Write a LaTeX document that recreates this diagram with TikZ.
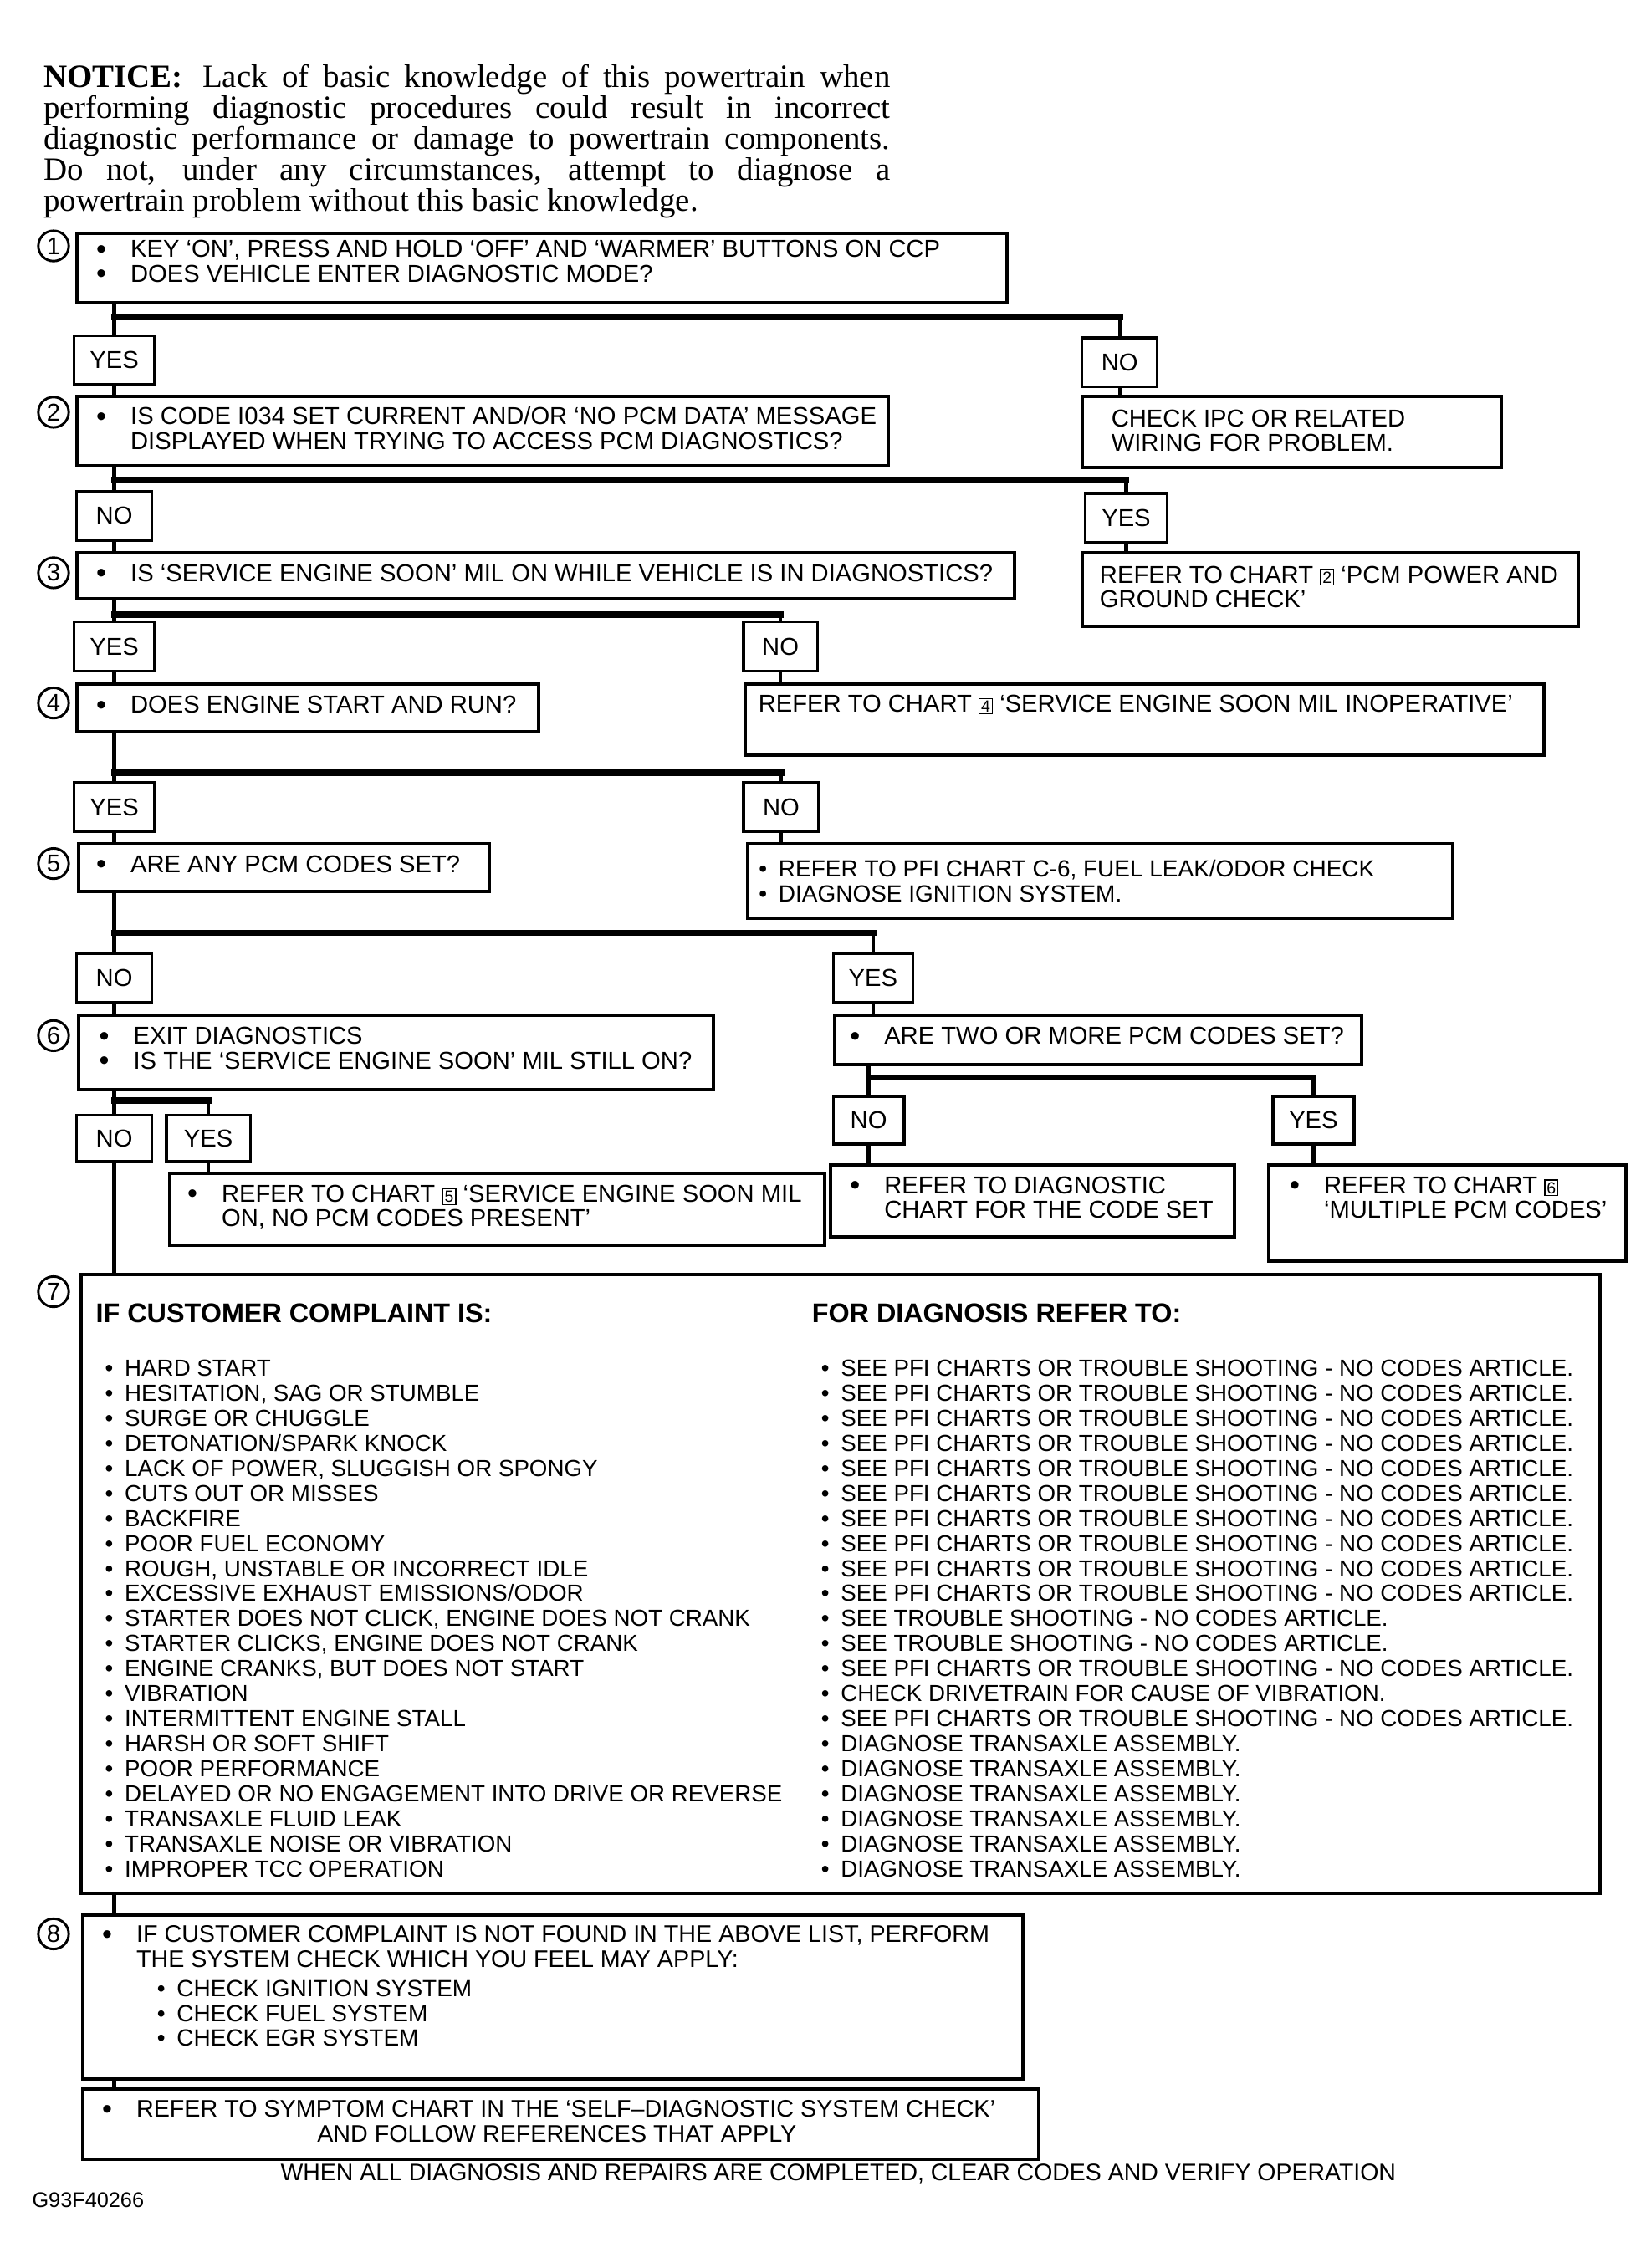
\documentclass[tikz,border=0pt]{standalone}
\usepackage{fontspec}
\setmainfont{Liberation Sans}
\newfontfamily\notefont{Liberation Serif}
\usetikzlibrary{calc}

\def\pxu{0.025cm}
\newcommand\bl[1][0.42cm]{\llap{\raisebox{-0.6pt}{\fontsize{14}{12}\selectfont\textbullet}\hspace{#1}}}
\newcommand\sbl[1][0.2cm]{\llap{\textbullet\hspace{#1}}}
\newcommand\chartno[1]{{\fboxsep=0.8pt\fboxrule=0.5pt\fbox{\fontsize{8}{8}\selectfont #1}}}

\tikzset{
  box/.style={draw, line width=1.6pt, anchor=north west, inner sep=0pt},
  ans/.style={draw, line width=1.4pt, inner sep=0pt, font=\fontsize{12}{12}\selectfont},
  txt/.style={anchor=north west, inner sep=0pt, align=left, font=\fontsize{12}{12.1}\selectfont},
  link/.style={line width=1.8pt},
  bar/.style={line width=3.2pt, line cap=rect},
  stepno/.style={circle, draw, line width=1.2pt, minimum size=21*\pxu, inner sep=0pt, font=\fontsize{12}{12}\selectfont},
}

\begin{document}
\begin{tikzpicture}[x=0.025cm, y=-0.025cm]
\fill[white] (0,0) rectangle (1141,1568);
\useasboundingbox (0,0) rectangle (1141,1568);

% notice
\node[anchor=north west, inner sep=0pt, text width=14.625cm, align=justify,
  font=\notefont\fontsize{16}{15.3}\selectfont] (note) at (30,44)
  {\textbf{NOTICE:}\hspace{0.6em}Lack of basic knowledge of this powertrain when\linebreak
   performing diagnostic procedures could result in incorrect\linebreak
   diagnostic performance or damage to powertrain components.\linebreak
   Do not, under any circumstances, attempt to diagnose a\linebreak
   powertrain problem without this basic knowledge.};

% boxes
\foreach \nm/\x/\y/\w/\h in {b1/52/160/643/48, b2/52/273/561/48, ipc/747/273/290/49,
  b3/52/381/648/32, chk2/747/381/343/51, b4/52/472/319/33, chk4/514/472/552/49,
  b5/53/582/284/33, pfi/516/582/487/52, b6/53/701/439/51, two/576/701/364/34,
  chk5/116/810/453/50, diag/573/804/279/50, chk6/876/804/247/67,
  b7/55/880/1050/428, b8/56/1323/650/113, b9/56/1443/661/49}
  \node[box, minimum width=\w*\pxu, minimum height=\h*\pxu] (\nm) at (\x,\y) {};

% yes / no
\foreach \nm/\t/\x/\y/\w/\h in {y1/YES/79/249/56/34, n1/NO/774/250.5/52/34,
  n2/NO/79/356.5/52/34, y2/YES/778.5/358/57/34, y3/YES/79/447/56/34, n3/NO/539.5/447/51/34,
  y4/YES/79/558/56/34, n4/NO/540/558/52/34, n5/NO/79/676/52/34, y5/YES/603.5/676/55/34,
  n6/NO/79/787/52/32, y6/YES/144/787/58/32, n7/NO/600.5/774.5/49/33, y7/YES/908/774.5/56/33}
  \node[ans, minimum width=\w*\pxu, minimum height=\h*\pxu] (\nm) at (\x,\y) {\t};

% step numbers
\foreach \i/\y in {1/170,2/285,3/396,4/486,5/597,6/716,7/893,8/1337}
  \node[stepno] (s\i) at (37,\y) {\i};

% branches
\foreach \b/\l/\r/\y in {b1/y1/n1/219, b2/n2/y2/332, b3/y3/n3/425, b4/y4/n4/534,
  b5/n5/y5/645, b6/n6/y6/761, two/n7/y7/745}{
  \draw[link] (\l |- \b.south) -- (\l.north);
  \draw[bar] (\l |- 0,\y) -- (\r |- 0,\y);
  \draw[link] (\r |- 0,\y) -- (\r.north);
}
\foreach \a/\b in {y1/b2, n1/ipc, n2/b3, y2/chk2, y3/b4, n3/chk4, y4/b5, n4/pfi,
  n5/b6, y5/two, y6/chk5, n7/diag, y7/chk6, n6/b7}
  \draw[link] (\a.south) -- (\a |- \b.north);
\foreach \a/\b in {b7/b8, b8/b9}
  \draw[link] (n6 |- \a.south) -- (n6 |- \b.north);

% box texts
\node[txt] (t1) at (90,166) {\bl KEY `ON', PRESS AND HOLD `OFF' AND `WARMER' BUTTONS ON CCP\\
  \bl DOES VEHICLE ENTER DIAGNOSTIC MODE?};
\node[txt] (t2) at (90,281) {\bl IS CODE I034 SET CURRENT AND/OR `NO PCM DATA' MESSAGE\\
  DISPLAYED WHEN TRYING TO ACCESS PCM DIAGNOSTICS?};
\node[txt] (tipc) at (768,283) {CHECK IPC OR RELATED\\WIRING FOR PROBLEM.};
\node[txt] (t3) at (90,390) {\bl IS `SERVICE ENGINE SOON' MIL ON WHILE VEHICLE IS IN DIAGNOSTICS?};
\node[txt] (tchk2) at (760,391) {REFER TO CHART \chartno{2} `PCM POWER AND\\GROUND CHECK'};
\node[txt] (t4) at (90,481) {\bl DOES ENGINE START AND RUN?};
\node[txt] (tchk4) at (524,480) {REFER TO CHART \chartno{4} `SERVICE ENGINE SOON MIL INOPERATIVE'};
\node[txt] (t5) at (90,591) {\bl ARE ANY PCM CODES SET?};
\node[txt, font=\fontsize{11.5}{12.4}\selectfont] (tpfi) at (538,594)
  {\sbl REFER TO PFI CHART C-6, FUEL LEAK/ODOR CHECK\\\sbl DIAGNOSE IGNITION SYSTEM.};
\node[txt] (t6) at (92,710) {\bl EXIT DIAGNOSTICS\\\bl IS THE `SERVICE ENGINE SOON' MIL STILL ON?};
\node[txt] (ttwo) at (611,710) {\bl ARE TWO OR MORE PCM CODES SET?};
\node[txt] (tchk5) at (153,819) {\bl REFER TO CHART \chartno{5} `SERVICE ENGINE SOON MIL\\
  ON, NO PCM CODES PRESENT'};
\node[txt] (tdiag) at (611,813) {\bl REFER TO DIAGNOSTIC\\CHART FOR THE CODE SET};
\node[txt] (tchk6) at (915,813) {\bl REFER TO CHART \chartno{6}\\`MULTIPLE PCM CODES'};

% complaint table
\node[txt, font=\bfseries\fontsize{13.3}{14}\selectfont] (h1) at (66,901) {IF CUSTOMER COMPLAINT IS:};
\node[txt, font=\bfseries\fontsize{13.3}{14}\selectfont] (h2) at (561,901) {FOR DIAGNOSIS REFER TO:};
\node[txt, font=\fontsize{11.4}{12.3}\selectfont] (cl) at (86,940) {%
  \sbl HARD START\\
  \sbl HESITATION, SAG OR STUMBLE\\
  \sbl SURGE OR CHUGGLE\\
  \sbl DETONATION/SPARK KNOCK\\
  \sbl LACK OF POWER, SLUGGISH OR SPONGY\\
  \sbl CUTS OUT OR MISSES\\
  \sbl BACKFIRE\\
  \sbl POOR FUEL ECONOMY\\
  \sbl ROUGH, UNSTABLE OR INCORRECT IDLE\\
  \sbl EXCESSIVE EXHAUST EMISSIONS/ODOR\\
  \sbl STARTER DOES NOT CLICK, ENGINE DOES NOT CRANK\\
  \sbl STARTER CLICKS, ENGINE DOES NOT CRANK\\
  \sbl ENGINE CRANKS, BUT DOES NOT START\\
  \sbl VIBRATION\\
  \sbl INTERMITTENT ENGINE STALL\\
  \sbl HARSH OR SOFT SHIFT\\
  \sbl POOR PERFORMANCE\\
  \sbl DELAYED OR NO ENGAGEMENT INTO DRIVE OR REVERSE\\
  \sbl TRANSAXLE FLUID LEAK\\
  \sbl TRANSAXLE NOISE OR VIBRATION\\
  \sbl IMPROPER TCC OPERATION};
\node[txt, font=\fontsize{11.4}{12.3}\selectfont] (cr) at (581,940) {%
  \sbl SEE PFI CHARTS OR TROUBLE SHOOTING - NO CODES ARTICLE.\\
  \sbl SEE PFI CHARTS OR TROUBLE SHOOTING - NO CODES ARTICLE.\\
  \sbl SEE PFI CHARTS OR TROUBLE SHOOTING - NO CODES ARTICLE.\\
  \sbl SEE PFI CHARTS OR TROUBLE SHOOTING - NO CODES ARTICLE.\\
  \sbl SEE PFI CHARTS OR TROUBLE SHOOTING - NO CODES ARTICLE.\\
  \sbl SEE PFI CHARTS OR TROUBLE SHOOTING - NO CODES ARTICLE.\\
  \sbl SEE PFI CHARTS OR TROUBLE SHOOTING - NO CODES ARTICLE.\\
  \sbl SEE PFI CHARTS OR TROUBLE SHOOTING - NO CODES ARTICLE.\\
  \sbl SEE PFI CHARTS OR TROUBLE SHOOTING - NO CODES ARTICLE.\\
  \sbl SEE PFI CHARTS OR TROUBLE SHOOTING - NO CODES ARTICLE.\\
  \sbl SEE TROUBLE SHOOTING - NO CODES ARTICLE.\\
  \sbl SEE TROUBLE SHOOTING - NO CODES ARTICLE.\\
  \sbl SEE PFI CHARTS OR TROUBLE SHOOTING - NO CODES ARTICLE.\\
  \sbl CHECK DRIVETRAIN FOR CAUSE OF VIBRATION.\\
  \sbl SEE PFI CHARTS OR TROUBLE SHOOTING - NO CODES ARTICLE.\\
  \sbl DIAGNOSE TRANSAXLE ASSEMBLY.\\
  \sbl DIAGNOSE TRANSAXLE ASSEMBLY.\\
  \sbl DIAGNOSE TRANSAXLE ASSEMBLY.\\
  \sbl DIAGNOSE TRANSAXLE ASSEMBLY.\\
  \sbl DIAGNOSE TRANSAXLE ASSEMBLY.\\
  \sbl DIAGNOSE TRANSAXLE ASSEMBLY.};

% last checks
\node[txt, font=\fontsize{11.8}{12.1}\selectfont] (t8) at (94,1331)
  {\bl IF CUSTOMER COMPLAINT IS NOT FOUND IN THE ABOVE LIST, PERFORM\\
   THE SYSTEM CHECK WHICH YOU FEEL MAY APPLY:};
\node[txt, font=\fontsize{11.5}{12.1}\selectfont] (t8b) at (122,1369)
  {\sbl CHECK IGNITION SYSTEM\\\sbl CHECK FUEL SYSTEM\\\sbl CHECK EGR SYSTEM};
\node[txt, font=\fontsize{11.8}{12.1}\selectfont] (t9) at (94,1452)
  {\bl REFER TO SYMPTOM CHART IN THE `SELF--DIAGNOSTIC SYSTEM CHECK'\\
   \hspace*{3.125cm}AND FOLLOW REFERENCES THAT APPLY};

\node[inner sep=0pt, font=\fontsize{11.7}{12}\selectfont] (done) at (579.5,1503)
  {WHEN ALL DIAGNOSIS AND REPAIRS ARE COMPLETED, CLEAR CODES AND VERIFY OPERATION};
\node[anchor=west, inner sep=0pt, font=\fontsize{10.4}{11}\selectfont] (figid) at (22,1521) {G93F40266};
\end{tikzpicture}
\end{document}
